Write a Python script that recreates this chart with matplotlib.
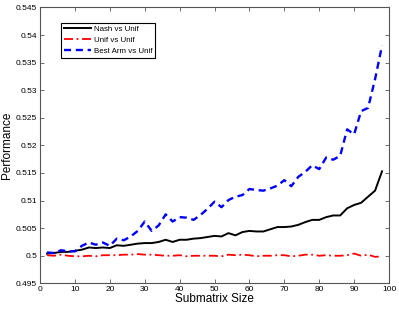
import numpy as np
import matplotlib.pyplot as plt
from matplotlib.ticker import FuncFormatter

plt.rcParams['font.family'] = ['Liberation Sans', 'DejaVu Sans']

sizes = list(range(2, 100, 2))

nash = [0.5004, 0.5005, 0.5007, 0.5007, 0.5009, 0.5011, 0.5015, 0.5014, 0.5015, 0.5014,
        0.5019, 0.5018, 0.5020, 0.5022, 0.5023, 0.5023, 0.5025, 0.5029, 0.5025, 0.5029,
        0.5029, 0.5031, 0.5032, 0.5034, 0.5036, 0.5035, 0.5041, 0.5037, 0.5043, 0.5045,
        0.5044, 0.5044, 0.5048, 0.5052, 0.5052, 0.5053, 0.5056, 0.5061, 0.5065, 0.5065,
        0.5070, 0.5073, 0.5073, 0.5086, 0.5092, 0.5096, 0.5107, 0.5118, 0.5153]

unif = [0.5001, 0.5000, 0.5002, 0.5000, 0.4999, 0.4999, 0.5000, 0.4999, 0.5001, 0.5001,
        0.5001, 0.5002, 0.5002, 0.5003, 0.5002, 0.5002, 0.5001, 0.5000, 0.5000, 0.5001,
        0.4999, 0.5000, 0.5000, 0.5000, 0.5000, 0.4999, 0.5002, 0.5001, 0.5002, 0.5001,
        0.4999, 0.5000, 0.5000, 0.5001, 0.5001, 0.4999, 0.5000, 0.5002, 0.5002, 0.5000,
        0.5001, 0.5000, 0.5000, 0.5001, 0.5004, 0.5000, 0.5002, 0.4998, 0.4999]

best_arm = [0.5006, 0.5005, 0.5010, 0.5008, 0.5008, 0.5018, 0.5024, 0.5020, 0.5024, 0.5018,
            0.5031, 0.5028, 0.5035, 0.5045, 0.5062, 0.5045, 0.5055, 0.5075, 0.5062, 0.5070,
            0.5069, 0.5065, 0.5074, 0.5085, 0.5098, 0.5088, 0.5101, 0.5107, 0.5110, 0.5121,
            0.5119, 0.5118, 0.5122, 0.5127, 0.5137, 0.5126, 0.5143, 0.5152, 0.5164, 0.5157,
            0.5178, 0.5174, 0.5181, 0.5229, 0.5220, 0.5262, 0.5268, 0.5320, 0.5381]

fig = plt.figure(figsize=(3.99, 3.09), dpi=100)
ax = fig.add_axes([0.1003, 0.083, 0.8747, 0.893])

ax.plot(sizes, nash, color='black', lw=1.4, label='Nash vs Unif')
ax.plot(sizes, unif, color='red', lw=1.3, linestyle=(0, (5, 2, 1, 2)), label='Unif vs Unif')
ax.plot(sizes, best_arm, color='blue', lw=1.7, linestyle=(0, (3, 2)), label='Best Arm vs Unif')

ax.set_xlim(0, 100)
ax.set_ylim(0.495, 0.545)
ax.set_xticks(range(0, 101, 10))
ax.set_yticks(np.arange(0.495, 0.5451, 0.005))
ax.yaxis.set_major_formatter(FuncFormatter(lambda v, p: '%g' % round(v, 3)))
ax.tick_params(direction='in', top=True, right=True, labelsize=6, length=3,
               width=0.6, color='#555555', pad=2)
for s in ax.spines.values():
    s.set_linewidth(0.8)
    s.set_color('#555555')

ax.set_xlabel('Submatrix Size', fontsize=8.5, labelpad=0)
ax.set_ylabel('Performance', fontsize=8.5, labelpad=2)

leg = ax.legend(loc='upper left', bbox_to_anchor=(0.06, 0.945), fontsize=5.7,
                fancybox=False, edgecolor='black', framealpha=1, handlelength=3.4,
                borderpad=0.35, labelspacing=0.45, handletextpad=0.4, borderaxespad=0)
leg.get_frame().set_linewidth(0.8)

fig.savefig('out.png', dpi=100)
